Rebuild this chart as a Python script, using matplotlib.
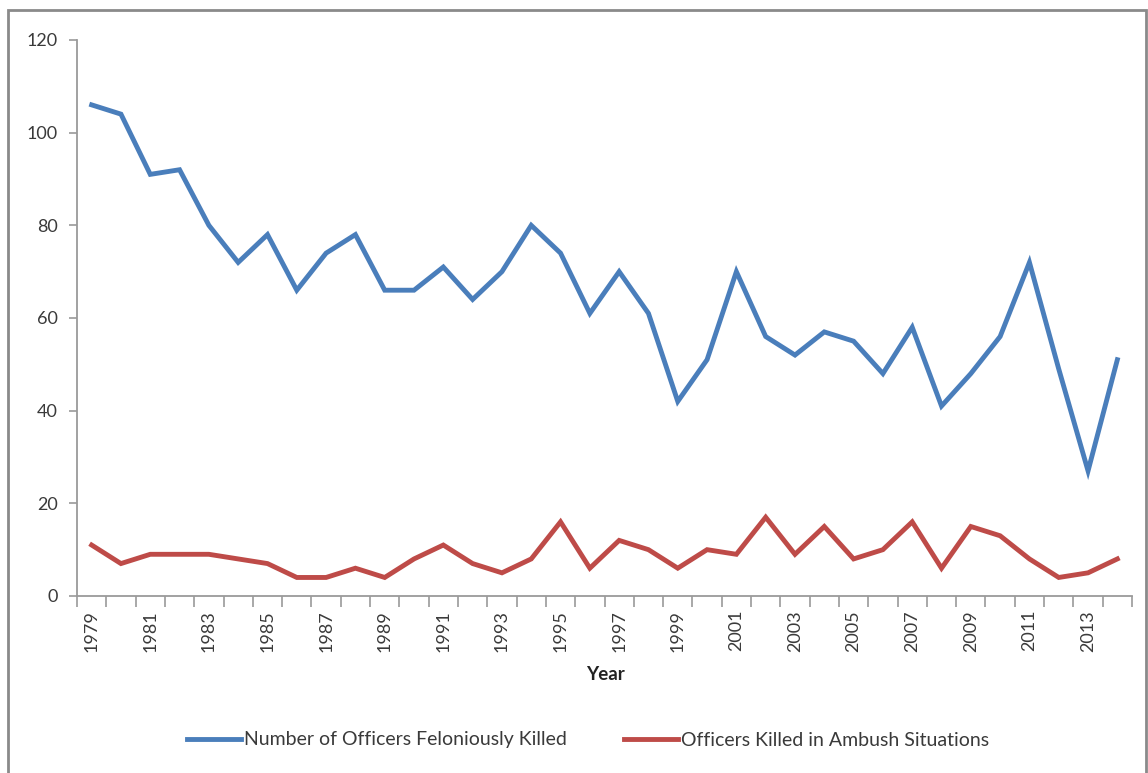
import numpy as np
import matplotlib
matplotlib.use("Agg")
import matplotlib.pyplot as plt
from matplotlib.patches import Rectangle
from matplotlib.lines import Line2D

plt.rcParams['font.family'] = ['Lato', 'DejaVu Sans']

# data
years = list(range(1979, 2015))
felonious = [106, 104, 91, 92, 80, 72, 78, 66, 74, 78, 66, 66, 71, 64, 70, 80, 74, 61,
             70, 61, 42, 51, 70, 56, 52, 57, 55, 48, 58, 41, 48, 56, 72, 49, 27, 51]
ambush = [11, 7, 9, 9, 9, 8, 7, 4, 4, 6, 4, 8, 11, 7, 5, 8, 16, 6,
          12, 10, 6, 10, 9, 17, 9, 15, 8, 10, 16, 6, 15, 13, 8, 4, 5, 8]
label_years = years[::2]
y_ticks = [0, 20, 40, 60, 80, 100, 120]

blue = '#4A7EBB'
red = '#BE4B48'
axis_col = '#9a9a9a'
text_col = '#3a3a3a'

fig = plt.figure(figsize=(11.48, 7.73), dpi=100)
ax = fig.add_axes([77/1148, 1 - 596/773, (1132 - 77)/1148, (596 - 40)/773])

ax.plot(years, felonious, color=blue, lw=3.5, solid_joinstyle='miter')
ax.plot(years, ambush, color=red, lw=3.5, solid_joinstyle='miter')

ax.set_xlim(years[0] - 0.5, years[-1] + 0.5)
ax.set_ylim(0, 120)

for s in ['top', 'right']:
    ax.spines[s].set_visible(False)
for s in ['left', 'bottom']:
    ax.spines[s].set_color(axis_col)
    ax.spines[s].set_linewidth(1.3)

ax.set_yticks(y_ticks)
ax.tick_params(axis='y', direction='out', length=6, width=1.2, color=axis_col,
               labelsize=13, labelcolor=text_col, pad=8)

ax.set_xticks(label_years)
ax.set_xticklabels([str(y) for y in label_years], rotation=90)
ax.set_xticks(np.arange(years[0] - 0.5, years[-1] + 1.0, 1.0), minor=True)
ax.tick_params(axis='x', which='major', length=0, labelsize=13, labelcolor=text_col, pad=10)
ax.tick_params(axis='x', which='minor', direction='out', length=8, width=1.2, color=axis_col)

fig.text(605/1148, 1 - 675/773, 'Year', ha='center', va='center',
         fontsize=13.5, fontweight='bold', color='#222222')

handles = [Line2D([], [], color=blue, lw=3.5), Line2D([], [], color=red, lw=3.5)]
fig.legend(handles, ['Number of Officers Feloniously Killed', 'Officers Killed in Ambush Situations'],
           loc='center', bbox_to_anchor=(588/1148, 1 - 740/773), ncol=2, frameon=False,
           fontsize=14, handlelength=2.8, handletextpad=0.15, columnspacing=2.9,
           labelcolor=text_col)

# outer chart frame
fig.patches.append(Rectangle((8/1148, -0.01), (1146 - 8)/1148, 1 - 10/773 + 0.01,
                             transform=fig.transFigure, fill=False,
                             edgecolor='#8a8a8a', lw=2.0))

fig.savefig('out.png', dpi=100, facecolor='white')
